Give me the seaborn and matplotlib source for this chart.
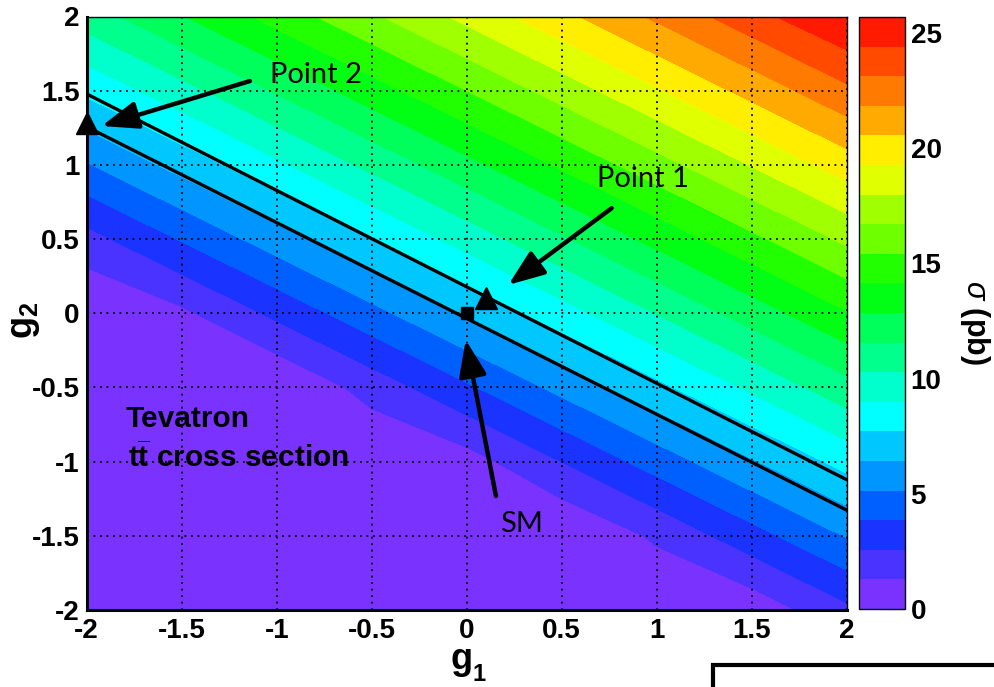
import matplotlib
matplotlib.use("Agg")
import matplotlib.pyplot as plt
import numpy as np
import pandas as pd
import seaborn as sns
from matplotlib.patches import Rectangle
from matplotlib.ticker import AutoMinorLocator

# grid of couplings
g1_vals = [-2.0, -1.5, -1.0, -0.5, 0.0, 0.5, 1.0, 1.5, 2.0]
g2_vals = [-2.0, -1.5, -1.0, -0.5, 0.0, 0.5, 1.0, 1.5, 2.0]

sigma_g2_m2p0 = [0.0, 0.0, 0.0, 0.0, 0.0, 0.0, 0.0, 0.42, 2.28]
sigma_g2_m1p5 = [0.0, 0.0, 0.0, 0.0, 0.0, 0.0, 1.50, 3.36, 5.22]
sigma_g2_m1p0 = [0.0, 0.0, 0.0, 0.0, 0.72, 2.58, 4.44, 6.30, 8.16]
sigma_g2_m0p5 = [0.0, 0.0, 0.0, 1.80, 3.66, 5.52, 7.38, 9.24, 11.10]
sigma_g2_0p0 = [0.0, 1.02, 2.88, 4.74, 6.60, 8.46, 10.32, 12.18, 14.04]
sigma_g2_0p5 = [2.10, 3.96, 5.82, 7.68, 9.54, 11.40, 13.26, 15.12, 16.98]
sigma_g2_1p0 = [5.04, 6.90, 8.76, 10.62, 12.48, 14.34, 16.20, 18.06, 19.92]
sigma_g2_1p5 = [7.98, 9.84, 11.70, 13.56, 15.42, 17.28, 19.14, 21.00, 22.86]
sigma_g2_2p0 = [10.92, 12.78, 14.64, 16.50, 18.36, 20.22, 22.08, 23.94, 25.70]

z_max = 25.7
n_bands = 20
band_colors = ["#7a33ff", "#4a33ff", "#1a33ff", "#0060ff", "#0095ff",
               "#00c8ff", "#00ffff", "#00ffcc", "#00ff8c", "#00ff5a",
               "#00ff14", "#22ff00", "#6eff00", "#a0ff00", "#e0ff00",
               "#ffee00", "#ffaa00", "#ff7a00", "#ff4a00", "#ff1a00"]

cbar_ticks = [0, 5, 10, 15, 20, 25]
tick_vals = [-2, -1.5, -1, -0.5, 0, 0.5, 1, 1.5, 2]
tick_labels = ["-2", "-1.5", "-1", "-0.5", "0", "0.5", "1", "1.5", "2"]

# measured cross-section band (two straight lines)
band_g1 = [-2.0, 2.0]
band_upper_g2 = [1.478, -1.122]
band_lower_g2 = [1.257, -1.327]

# benchmark points
point_names = ["SM", "Point 1", "Point 2"]
point_g1 = [0.0, 0.1, -2.0]
point_g2 = [0.0, 0.1, 1.285]
point_marker = ["s", "^", "^"]
point_size = [8, 16, 16]
arrow_tail_g1 = [0.154, 0.763, -1.141]
arrow_tail_g2 = [-1.231, 0.708, 1.565]
arrow_tip_g1 = [-0.005, 0.219, -1.921]
arrow_tip_g2 = [-0.180, 0.191, 1.262]
label_g1 = [0.175, 0.684, -1.035]
label_g2 = [-1.472, 0.853, 1.552]

sns.set_style("white")
plt.rcParams["font.family"] = ["Liberation Sans", "DejaVu Sans"]
plt.rcParams["mathtext.fontset"] = "custom"
plt.rcParams["mathtext.rm"] = "Liberation Sans"
plt.rcParams["mathtext.bf"] = "Liberation Sans:bold"
plt.rcParams["mathtext.it"] = "Liberation Sans:italic"
for key in ["text.color", "axes.labelcolor", "xtick.color", "ytick.color",
            "axes.edgecolor"]:
    plt.rcParams[key] = "black"

W, H = 994, 687
fig = plt.figure(figsize=(W / 100, H / 100), dpi=100)
ax = fig.add_axes([86.7 / W, (H - 610) / H, 760 / W, 593.5 / H])
cax = fig.add_axes([859 / W, (H - 609) / H, 46 / W, 592 / H])

sigma = np.array([sigma_g2_m2p0, sigma_g2_m1p5, sigma_g2_m1p0, sigma_g2_m0p5,
                  sigma_g2_0p0, sigma_g2_0p5, sigma_g2_1p0, sigma_g2_1p5,
                  sigma_g2_2p0])
G1, G2 = np.meshgrid(g1_vals, g2_vals)
levels = np.linspace(0, z_max, n_bands + 1)
pal = sns.color_palette(band_colors)
cs = ax.contourf(G1, G2, sigma, levels=levels, colors=pal, antialiased=False)

ax.set_xlim(-2, 2)
ax.set_ylim(-2, 2)
ax.set_xticks(tick_vals)
ax.set_xticklabels(tick_labels)
ax.set_yticks(tick_vals)
ax.set_yticklabels(tick_labels)
ax.xaxis.set_minor_locator(AutoMinorLocator(5))
ax.yaxis.set_minor_locator(AutoMinorLocator(5))
ax.tick_params(axis="both", which="both", direction="in", width=1.5,
               labelsize=20, top=False, right=False)
ax.tick_params(axis="x", which="major", length=12, pad=6)
ax.tick_params(axis="x", which="minor", length=6)
ax.tick_params(axis="y", which="major", length=16, pad=5)
ax.tick_params(axis="y", which="minor", length=8)
for lab in ax.get_xticklabels() + ax.get_yticklabels():
    lab.set_fontweight("bold")
ax.set_axisbelow(False)
ax.grid(True, which="major", color="black", linestyle=(0, (1, 2.6)),
        linewidth=1.3)
for side in ["left", "bottom"]:
    ax.spines[side].set_linewidth(2.2)
for side in ["top", "right"]:
    ax.spines[side].set_linewidth(1.0)

band_df = pd.DataFrame({"g1": band_g1 * 2,
                        "g2": band_upper_g2 + band_lower_g2,
                        "edge": ["upper", "upper", "lower", "lower"]})
sns.lineplot(data=band_df, x="g1", y="g2", units="edge", estimator=None,
             sort=False, color="black", linewidth=2.4, ax=ax, zorder=3)
ax.set_xlabel("")
ax.set_ylabel("")

for i in range(len(point_names)):
    ax.plot(point_g1[i], point_g2[i], marker=point_marker[i], color="black",
            markersize=point_size[i], linestyle="none", clip_on=False, zorder=5)
    ax.annotate("", xy=(arrow_tip_g1[i], arrow_tip_g2[i]),
                xytext=(arrow_tail_g1[i], arrow_tail_g2[i]),
                arrowprops=dict(arrowstyle="-|>,head_length=1.1,head_width=0.42",
                                lw=3.2, color="black", shrinkA=0, shrinkB=0,
                                mutation_scale=20), zorder=5)
    ax.text(label_g1[i], label_g2[i], point_names[i], family="Lato",
            fontsize=21, color="black", va="baseline", ha="left", zorder=5)

ax.text(-1.793, -0.768, "Tevatron", fontsize=21.5, fontweight="bold",
        va="baseline", ha="left")
ax.text(-1.781, -1.040, r"$\mathbf{t}\overline{\mathbf{t}}$ cross section",
        fontsize=21.5, fontweight="bold", va="baseline", ha="left")

cb = fig.colorbar(cs, cax=cax)
cb.set_ticks(cbar_ticks)
cb.set_ticklabels([str(t) for t in cbar_ticks])
cax.tick_params(direction="in", length=17, width=1.5, labelsize=20, pad=4,
                left=False, right=True)
for lab in cax.get_yticklabels():
    lab.set_fontweight("bold")
cb.outline.set_linewidth(1.0)
cb.set_label("")

fig.text(975 / W, (H - 322) / H, r"$\sigma$ (pb)", rotation=270, fontsize=22,
         fontweight="bold", ha="center", va="center")
fig.text(462 / W, (H - 669) / H, "g", fontsize=26, fontweight="bold",
         ha="center", va="baseline")
fig.text(472 / W, (H - 681) / H, "1", fontsize=17, fontweight="bold",
         ha="left", va="baseline")
fig.text(24 / W, (H - 320) / H, r"$\mathbf{g}_{\mathbf{2}}$", fontsize=26,
         rotation=90, ha="center", va="center")

fig.add_artist(Rectangle((713 / W, -0.05), 0.4, (H - 665) / H + 0.05,
                         transform=fig.transFigure, fill=False,
                         edgecolor="black", linewidth=3, clip_on=False))

fig.savefig("out.png", dpi=100)
